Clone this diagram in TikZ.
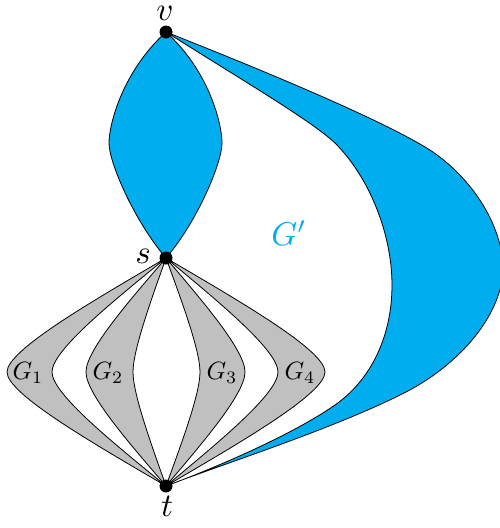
\documentclass[tikz,border=0pt]{standalone}
\definecolor{gcyan}{RGB}{0,174,239}
\definecolor{ggray}{RGB}{192,192,192}
\newcommand{\biglbl}[1]{\scalebox{3.3}{$#1$}}
\newcommand{\sublbl}[1]{\scalebox{2.5}{$#1$}}
\begin{document}
\begin{tikzpicture}[x=1pt,y=-1pt,
  edgeline/.style={draw=black,line width=0.8pt},
  bluefill/.style={edgeline,fill=gcyan},
  grayfill/.style={edgeline,fill=ggray},
  vertexdot/.style={circle,fill=black,inner sep=0pt,minimum size=13pt},
  lbl/.style={inner sep=0pt}]
\useasboundingbox (0,0) rectangle (499,528);
\coordinate (v) at (166,32);
\coordinate (s) at (166,258);
\coordinate (t) at (166,486);
% top lens
\filldraw[bluefill] (v) .. controls (122,72) and (109,125) .. (109,143)
  .. controls (109,163) and (135,222) .. (s)
  .. controls (197,222) and (222,163) .. (222,143)
  .. controls (222,125) and (210,72) .. (v) -- cycle;
% G' band
\filldraw[bluefill] (v) .. controls (300,85) and (390,125) .. (430,150)
  .. controls (478,182) and (503,232) .. (503,268)
  .. controls (503,312) and (462,365) .. (400,395)
  .. controls (330,430) and (220,465) .. (t)
  .. controls (215,468) and (292,435) .. (335,405)
  .. controls (372,379) and (392,335) .. (392,285)
  .. controls (392,235) and (370,178) .. (335,143)
  .. controls (310,120) and (250,85) .. (v) -- cycle;
% G_i lobes
\foreach \a/\b in {7/52, 86/133, 200/245, 278/325} {
  \pgfmathsetmacro\ca{166-0.45*(166-\a)}
  \pgfmathsetmacro\cb{166-0.45*(166-\b)}
  \filldraw[grayfill] (s) .. controls (\ca,300) and (\a,350) .. (\a,372)
    .. controls (\a,394) and (\ca,444) .. (t)
    .. controls (\cb,444) and (\b,394) .. (\b,372)
    .. controls (\b,350) and (\cb,300) .. (s) -- cycle;
}
\node[lbl] (g1) at (28,373) {\sublbl{G_1}};
\node[lbl] (g2) at (108,373) {\sublbl{G_2}};
\node[lbl] (g3) at (222,373) {\sublbl{G_3}};
\node[lbl] (g4) at (300,373) {\sublbl{G_4}};
\node[lbl,text=gcyan] (gp) at (289,233) {\biglbl{G'}};
% vertices
\node[vertexdot] (vd) at (v) {};
\node[vertexdot] (sd) at (s) {};
\node[vertexdot] (td) at (t) {};
\node[lbl] (vl) at (165,13) {\biglbl{v}};
\node[lbl] (sl) at (143,256) {\biglbl{s}};
\node[lbl] (tl) at (167,506) {\biglbl{t}};
\end{tikzpicture}
\end{document}
